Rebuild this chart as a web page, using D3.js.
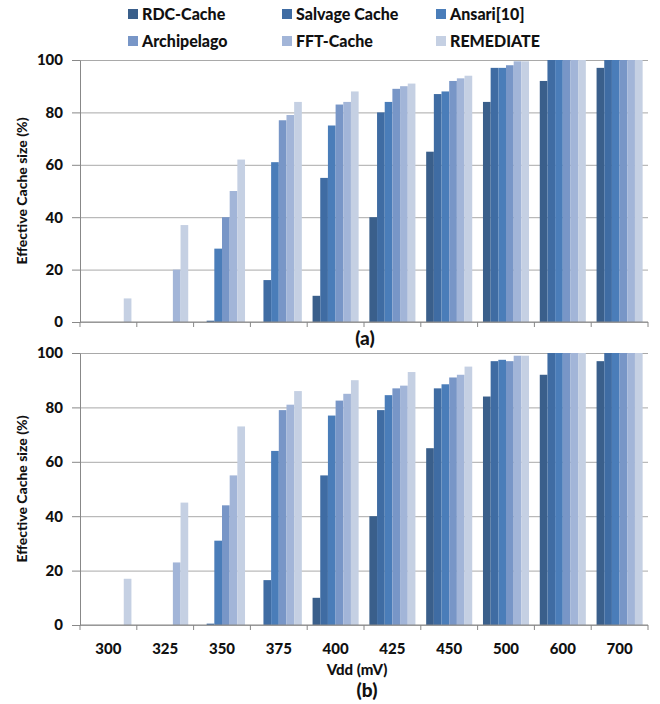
<!DOCTYPE html>
<html>
<head>
<meta charset="utf-8">
<script src="https://cdn.jsdelivr.net/npm/d3@7"></script>
<style>
  body { margin: 0; background: #fff; }
  svg text { font-family: Lato, "Open Sans", sans-serif; font-weight: 900; fill: #111; }
  .grid line { stroke: #a9a9a9; }
  .grid path { display: none; }
  .axis path, .axis line { stroke: #888; }
</style>
</head>
<body>
<svg id="chart" width="660" height="704"></svg>
<script>
// categories (Vdd in mV)
const categories = ["300", "325", "350", "375", "400", "425", "450", "500", "600", "700"];
const series = ["RDC-Cache", "Salvage Cache", "Ansari[10]", "Archipelago", "FFT-Cache", "REMEDIATE"];
const colors = ["#3a5f8b", "#3f6ca3", "#4a7db9", "#7896c7", "#a2b5d8", "#c5d0e3"];
const yTicks = [0, 20, 40, 60, 80, 100];

// panel (a)
const rdcA = [0, 0, 0, 0, 10, 40, 65, 84, 92, 97];
const salvageA = [0, 0, 0.5, 16, 55, 80, 87, 97, 100, 100];
const ansariA = [0, 0, 28, 61, 75, 84, 88, 97, 100, 100];
const archipelagoA = [0, 0, 40, 77, 83, 89, 92, 98, 100, 100];
const fftA = [0, 20, 50, 79, 84, 90, 93, 99.5, 100, 100];
const remediateA = [9, 37, 62, 84, 88, 91, 94, 99.5, 100, 100];

// panel (b)
const rdcB = [0, 0, 0, 0, 10, 40, 65, 84, 92, 97];
const salvageB = [0, 0, 0.5, 16.5, 55, 79, 87, 97, 100, 100];
const ansariB = [0, 0, 31, 64, 77, 84.5, 88.5, 97.5, 100, 100];
const archipelagoB = [0, 0, 44, 79, 82.5, 87, 91, 97, 100, 100];
const fftB = [0, 23, 55, 81, 85, 88, 92, 99, 100, 100];
const remediateB = [17, 45, 73, 86, 90, 93, 95, 99, 100, 100];

const panelA = [rdcA, salvageA, ansariA, archipelagoA, fftA, remediateA];
const panelB = [rdcB, salvageB, ansariB, archipelagoB, fftB, remediateB];

const svg = d3.select("#chart");
const left = 80, right = 648;

const x0 = d3.scaleBand().domain(categories).range([left, right]).padding(0);
const x1 = d3.scaleBand().domain(series).range([0, x0.bandwidth()]).paddingInner(0).paddingOuter(0.7);

function drawPanel(values, top, bottom, showLabels) {
  const y = d3.scaleLinear().domain([0, 100]).range([bottom, top]);
  const g = svg.append("g");

  // gridlines
  g.append("g")
    .attr("class", "grid")
    .attr("transform", `translate(${left},0)`)
    .call(d3.axisLeft(y).tickValues(yTicks).tickSize(-(right - left)).tickFormat(""));

  // y axis with labels
  const ya = g.append("g")
    .attr("class", "axis")
    .attr("transform", `translate(${left},0)`)
    .call(d3.axisLeft(y).tickValues(yTicks).tickSize(8).tickSizeOuter(0).tickPadding(9));
  ya.selectAll("text").style("font-size", "15px");

  // bars
  series.forEach((s, i) => {
    g.append("g")
      .selectAll("rect")
      .data(values[i])
      .join("rect")
      .attr("x", (d, j) => x0(categories[j]) + x1(s))
      .attr("width", x1.bandwidth())
      .attr("y", d => y(d))
      .attr("height", d => y(0) - y(d))
      .attr("fill", colors[i]);
  });

  // x axis line and boundary ticks
  g.append("line")
    .attr("x1", left).attr("x2", right)
    .attr("y1", y(0)).attr("y2", y(0))
    .attr("stroke", "#888");
  const bounds = categories.map(c => x0(c)).concat([right]);
  g.selectAll(".xtick")
    .data(bounds)
    .join("line")
    .attr("x1", d => d).attr("x2", d => d)
    .attr("y1", y(0)).attr("y2", y(0) + 5)
    .attr("stroke", "#888");

  if (showLabels) {
    g.selectAll(".xlabel")
      .data(categories)
      .join("text")
      .attr("x", d => x0(d) + x0.bandwidth() / 2)
      .attr("y", y(0) + 29)
      .attr("text-anchor", "middle")
      .style("font-size", "15px")
      .text(d => d);
  }

  // y title
  svg.append("text")
    .attr("transform", `translate(27,${(top + bottom) / 2}) rotate(-90)`)
    .attr("text-anchor", "middle")
    .style("font-size", "14px")
    .text("Effective Cache size (%)");
}

drawPanel(panelA, 60, 322, false);
drawPanel(panelB, 353, 625, true);

svg.append("text")
  .attr("x", 365).attr("y", 345)
  .attr("text-anchor", "middle")
  .style("font-size", "19px")
  .text("(a)");

svg.append("text")
  .attr("x", 357).attr("y", 675)
  .attr("text-anchor", "middle")
  .style("font-size", "15px")
  .text("Vdd (mV)");

svg.append("text")
  .attr("x", 367).attr("y", 697)
  .attr("text-anchor", "middle")
  .style("font-size", "19px")
  .text("(b)");

// legend
const legendX = [128, 282, 436];
const legendY = [14, 41];
const legend = svg.append("g");
series.forEach((s, i) => {
  const lx = legendX[i % 3], ly = legendY[Math.floor(i / 3)];
  legend.append("rect")
    .attr("x", lx).attr("y", ly - 5)
    .attr("width", 10).attr("height", 10)
    .attr("fill", colors[i]);
  legend.append("text")
    .attr("x", lx + 14).attr("y", ly + 6)
    .style("font-size", "16px")
    .text(s);
});
</script>
</body>
</html>
